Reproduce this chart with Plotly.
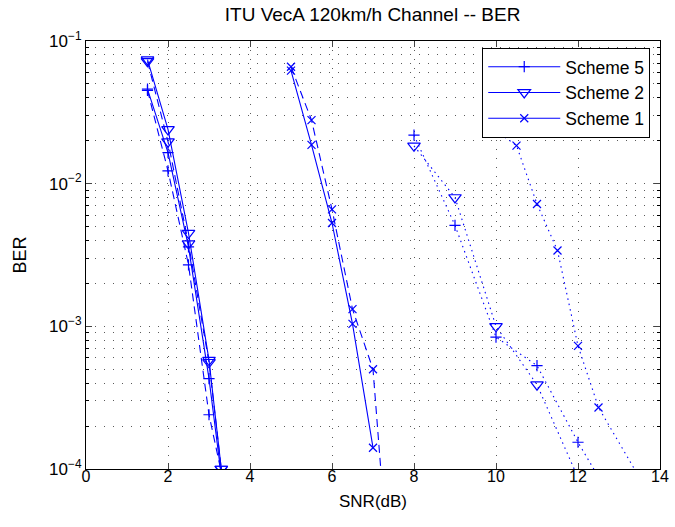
import plotly.graph_objects as go

# ---------------- data ----------------
snr_g1 = [1.5, 2.0, 2.5, 3.0, 3.3]
s5_solid = [0.046, 0.0165, 0.0036, 0.00043, 0.00009]
s5_dash = [0.045, 0.0123, 0.0027, 0.00024, 0.000095]
s2_solid = [0.074, 0.024, 0.0045, 0.00058, 0.0001]
s2_dash = [0.072, 0.0197, 0.0038, 0.00056, 0.0001]

snr_s1_solid = [5.0, 5.5, 6.0, 6.5, 7.0]
s1_solid = [0.062, 0.0187, 0.0053, 0.00104, 0.000141]
snr_s1_dash = [5.0, 5.5, 6.0, 6.5, 7.0, 7.5]
s1_dash = [0.066, 0.0279, 0.0066, 0.00132, 0.0005, 0.0000072]

snr_s5_dot = [8, 9, 10, 11, 12, 13]
s5_dot = [0.0219, 0.0051, 0.00084, 0.00053, 0.000154, 0.00005]
snr_s2_dot = [8, 9, 10, 11, 12]
s2_dot = [0.0184, 0.008, 0.001, 0.00039, 0.000087]
snr_s1_dot = [10, 10.5, 11, 11.5, 12, 12.5, 13.5]
s1_dot = [0.0235, 0.0185, 0.0072, 0.0034, 0.00073, 0.00027, 0.000087]

legend_names = ["Scheme 5", "Scheme 2", "Scheme 1"]
x_ticks = [0, 2, 4, 6, 8, 10, 12, 14]
y_ticks = [1e-4, 1e-3, 1e-2, 1e-1]
y_ticktext = ["10<sup>\u22124</sup>", "10<sup>\u22123</sup>", "10<sup>\u22122</sup>", "10<sup>\u22121</sup>"]

BLUE = "#0000ff"
DASH = "8px,5px"
DOT = "1.5px,4px"

sym = {"Scheme 5": ("cross-thin-open", 8),
       "Scheme 2": ("triangle-down-open", 11),
       "Scheme 1": ("x-thin-open", 8)}

fig = go.Figure()


def add(x, y, scheme, dash, show):
    s, size = sym[scheme]
    fig.add_trace(go.Scatter(
        x=x, y=y, mode="lines+markers", name=scheme, showlegend=show,
        line=dict(color=BLUE, width=1.1, dash=dash),
        marker=dict(symbol=s, size=size, color=BLUE, line=dict(color=BLUE, width=1.2)),
        cliponaxis=True,
    ))


add(snr_g1, s5_solid, legend_names[0], "solid", True)
add(snr_g1, s2_solid, legend_names[1], "solid", True)
add(snr_s1_solid, s1_solid, legend_names[2], "solid", True)
add(snr_g1, s5_dash, legend_names[0], DASH, False)
add(snr_g1, s2_dash, legend_names[1], DASH, False)
add(snr_s1_dash, s1_dash, legend_names[2], DASH, False)
add(snr_s5_dot, s5_dot, legend_names[0], DOT, False)
add(snr_s2_dot, s2_dot, legend_names[1], DOT, False)
add(snr_s1_dot, s1_dot, legend_names[2], DOT, False)

minor_vals = [k * 10.0 ** e for e in (-4, -3, -2) for k in range(2, 10)]
GRID = "#5a5a5a"
GDASH = "1px,8px"
FONT = "Liberation Sans, Arial, sans-serif"

fig.update_layout(
    width=675, height=527,
    margin=dict(l=86, r=15, t=41, b=58),
    paper_bgcolor="white", plot_bgcolor="white",
    font=dict(family=FONT, size=16, color="black"),
    title=dict(text="ITU VecA 120km/h Channel -- BER", x=0.552, xanchor="center",
               y=0.973, yanchor="middle", font=dict(size=19), automargin=False),
    showlegend=True,
    legend=dict(x=0.983, y=0.984, xanchor="right", yanchor="top",
                bgcolor="white", bordercolor="black", borderwidth=1,
                font=dict(size=17.5), itemwidth=72, tracegroupgap=0),
    xaxis=dict(range=[0, 14], tickvals=x_ticks, ticks="inside", ticklen=6,
               showline=True, linecolor="black", linewidth=1, mirror="allticks",
               showgrid=True, gridcolor=GRID, griddash=GDASH, gridwidth=1,
               zeroline=False, tickfont=dict(size=16), automargin=False,
               ticklabelstandoff=-7,
               title=dict(text="SNR(dB)", standoff=10, font=dict(size=17))),
    yaxis=dict(type="log", range=[-4, -1], tickvals=y_ticks, ticktext=y_ticktext,
               ticks="inside", ticklen=6, automargin=False,
               showline=True, linecolor="black", linewidth=1, mirror="allticks",
               showgrid=True, gridcolor=GRID, griddash=GDASH, gridwidth=1,
               zeroline=False, tickfont=dict(size=17),
               minor=dict(tickvals=minor_vals, ticks="inside", ticklen=3,
                          tickcolor="black", showgrid=True, gridcolor=GRID,
                          griddash=GDASH, gridwidth=1),
               title=dict(text="BER", standoff=17, font=dict(size=18))),
)

fig.write_html("out.html", config={"displayModeBar": False},
               post_script="document.body.style.margin='0px';")
